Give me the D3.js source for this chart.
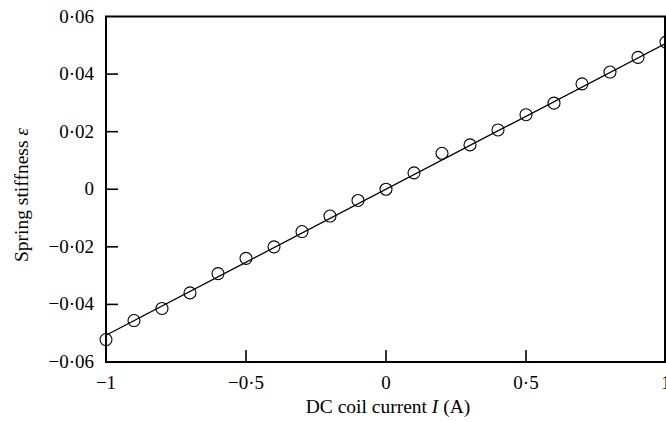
<!DOCTYPE html>
<html>
<head>
<meta charset="utf-8">
<script src="https://cdn.jsdelivr.net/npm/d3@7"></script>
<style>
  body { margin: 0; background: #fff; }
  svg { display: block; }
  text { font-family: "Liberation Serif", "DejaVu Serif", serif; fill: #000; }
</style>
</head>
<body>
<div id="chart"></div>
<script>
// measured points: DC coil current (A) vs spring stiffness
var current = [-1, -0.9, -0.8, -0.7, -0.6, -0.5, -0.4, -0.3, -0.2, -0.1, 0,
  0.1, 0.2, 0.3, 0.4, 0.5, 0.6, 0.7, 0.8, 0.9, 1];
var stiffness = [-0.0522, -0.0456, -0.0414, -0.0360, -0.0293, -0.0240, -0.0200,
  -0.0147, -0.0093, -0.0039, 0, 0.0057, 0.0125, 0.0154, 0.0206, 0.0259,
  0.0299, 0.0366, 0.0407, 0.0458, 0.0511];

// fitted straight line
var fitX = [-1, 1];
var fitY = [-0.0507, 0.0507];

var xTicks = [-1, -0.5, 0, 0.5, 1];
var yTicks = [-0.06, -0.04, -0.02, 0, 0.02, 0.04, 0.06];

var width = 666, height = 422;
var mLeft = 106, mRight = 665, mTop = 16.5, mBottom = 362;

var svg = d3.select("#chart")
  .append("svg")
  .attr("width", width)
  .attr("height", height);

var scX = d3.scaleLinear().domain([-1, 1]).range([mLeft, mRight + 1]);
var scY = d3.scaleLinear().domain([-0.06, 0.06]).range([mBottom, mTop]);

// number format like the journal: middle dot, true minus
var fmt = function (v) {
  if (v === 0) return "0";
  var s = Math.abs(v).toString().replace(".", "\u00b7");
  return (v < 0 ? "\u2212" : "") + s;
};

// ticks pointing inward
svg.append("g")
  .selectAll("line")
  .data(yTicks.slice(1, -1))
  .enter()
  .append("line")
  .attr("x1", mLeft).attr("x2", mLeft + 12)
  .attr("y1", d => scY(d)).attr("y2", d => scY(d))
  .attr("stroke", "#000").attr("stroke-width", 1.6);

svg.append("g")
  .selectAll("line")
  .data(xTicks.slice(1, -1))
  .enter()
  .append("line")
  .attr("x1", d => scX(d)).attr("x2", d => scX(d))
  .attr("y1", mBottom).attr("y2", mBottom - 12)
  .attr("stroke", "#000").attr("stroke-width", 1.6);

// frame
svg.append("rect")
  .attr("x", mLeft).attr("y", mTop)
  .attr("width", mRight - mLeft).attr("height", mBottom - mTop)
  .attr("fill", "none").attr("stroke", "#000").attr("stroke-width", 2);

// tick labels
svg.append("g")
  .selectAll("text")
  .data(yTicks)
  .enter()
  .append("text")
  .attr("x", mLeft - 12)
  .attr("y", d => scY(d) + 6)
  .attr("text-anchor", "end")
  .attr("font-size", 19)
  .text(fmt);

svg.append("g")
  .selectAll("text")
  .data(xTicks)
  .enter()
  .append("text")
  .attr("x", d => scX(d))
  .attr("y", mBottom + 27)
  .attr("text-anchor", "middle")
  .attr("font-size", 19)
  .text(fmt);

// fitted line
var line = d3.line()
  .x(d => scX(d[0]))
  .y(d => scY(d[1]));
svg.append("path")
  .attr("d", line(d3.zip(fitX, fitY)))
  .attr("fill", "none")
  .attr("stroke", "#000")
  .attr("stroke-width", 1.3);

// data circles
svg.append("g")
  .selectAll("circle")
  .data(d3.zip(current, stiffness))
  .enter()
  .append("circle")
  .attr("cx", d => scX(d[0]))
  .attr("cy", d => scY(d[1]))
  .attr("r", 6)
  .attr("fill", "none")
  .attr("stroke", "#000")
  .attr("stroke-width", 1.1);

// axis titles
var xt = svg.append("text")
  .attr("x", 388)
  .attr("y", 413)
  .attr("text-anchor", "middle")
  .attr("font-size", 19.5);
xt.append("tspan").text("DC coil current ");
xt.append("tspan").attr("font-style", "italic").text("I");
xt.append("tspan").text(" (A)");

var yt = svg.append("text")
  .attr("transform", "translate(28,195) rotate(-90)")
  .attr("text-anchor", "middle")
  .attr("font-size", 19.5);
yt.append("tspan").text("Spring stiffness ");
yt.append("tspan").attr("font-style", "italic").text("\u03b5");
</script>
</body>
</html>
